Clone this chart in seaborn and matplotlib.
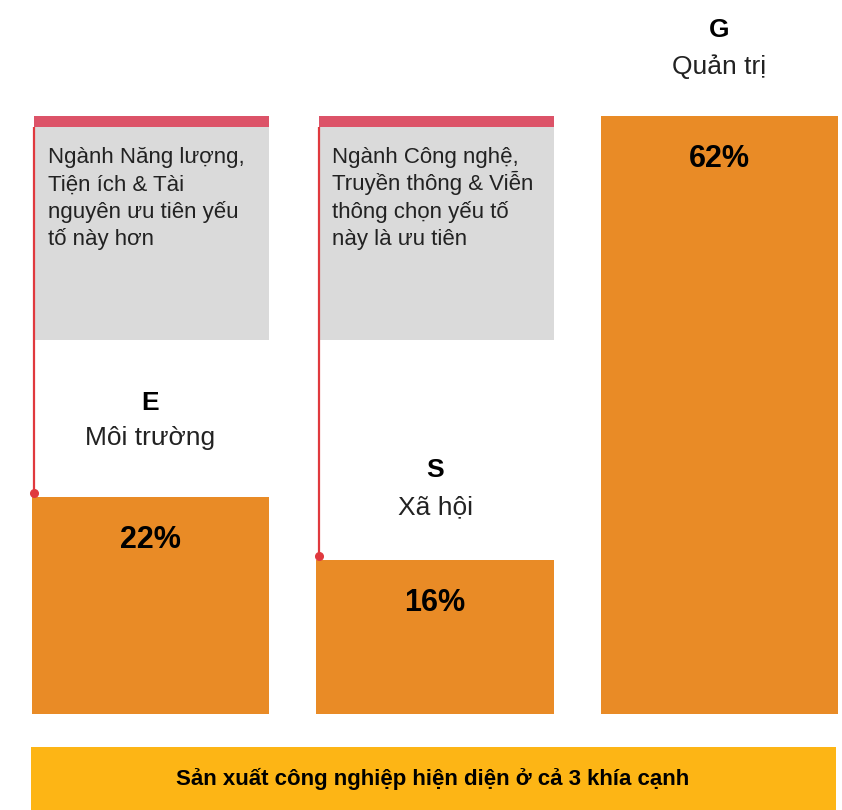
import matplotlib
matplotlib.use("Agg")
import matplotlib.pyplot as plt
import matplotlib.transforms as mtransforms
from matplotlib.patches import Rectangle
import seaborn as sns

# ---- data ----
categories = ["E", "S", "G"]
names = ["Môi trường", "Xã hội", "Quản trị"]
values = [22.5, 16, 62]
value_labels = ["22%", "16%", "62%"]
notes = {
    "E": ["Ngành Năng lượng,", "Tiện ích & Tài", "nguyên ưu tiên yếu", "tố này hơn"],
    "S": ["Ngành Công nghệ,", "Truyền thông & Viễn", "thông chọn yếu tố", "này là ưu tiên"],
}
footer = "Sản xuất công nghiệp hiện diện ở cả 3 khía cạnh"

ORANGE = "#E98B26"
GRAY = "#DADADA"
STRIP = "#DC5368"
RED = "#E0393E"
YELLOW = "#FDB515"

sns.set_theme(style="white")
plt.rcParams["font.family"] = ["Liberation Sans", "DejaVu Sans"]

W, H = 842, 810
fig = plt.figure(figsize=(W / 100, H / 100), dpi=100)
ax = fig.add_axes([0, 0, 1, 1])

sns.barplot(x=categories, y=values, color=ORANGE, saturation=1, width=0.835,
            linewidth=0, edgecolor="none", ax=ax)

# px-per-unit mapping: baseline at y=714 px, 62 at y=116 px
ppu = (714 - 116) / 62.0
ax.set_ylim(-(H - 714) / ppu, 62 + 116 / ppu)
spacing = 284.5
ax.set_xlim(-150.5 / spacing, (W - 150.5) / spacing)
ax.axis("off")

pix = mtransforms.Affine2D().scale(1 / W, -1 / H).translate(0, 1) + fig.transFigure

box_bottom = 62 - (340 - 116) / ppu
strip_h = 11 / ppu
dx = 2.5 / spacing

for i, (cat, patch) in enumerate(zip(categories, ax.patches)):
    x0 = patch.get_x()
    w = patch.get_width()
    v = values[i]
    cx = x0 + w / 2
    # value label
    ax.text(cx, v - 43 / ppu, value_labels[i], ha="center", va="center",
            fontsize=22, fontweight="bold", color="black")
    if cat in notes:
        ax.add_patch(Rectangle((x0 + dx, box_bottom), w - dx, 62 - box_bottom,
                               facecolor=GRAY, edgecolor="none", zorder=1))
        ax.add_patch(Rectangle((x0 + dx, 62 - strip_h), w - dx, strip_h,
                               facecolor=STRIP, edgecolor="none", zorder=2))
        ax.plot([x0 + dx, x0 + dx], [v + 4 / ppu, 62 - strip_h], color=RED,
                lw=1.6, zorder=3, solid_capstyle="butt")
        ax.plot([x0 + dx], [v + 4 / ppu], marker="o", ms=5.5, color=RED, zorder=4)
        for k, line in enumerate(notes[cat]):
            ax.text(x0 + 16 / spacing, 62 - (47 + 27.4 * k) / ppu, line,
                    ha="left", va="baseline", fontsize=16, color="#222222",
                    zorder=5)

# category headers (pixel positions)
header_pos = {"E": (150, 403, 438), "S": (435, 470, 507), "G": (719, 30, 67)}
for cat, nm in zip(categories, names):
    x, yl, yn = header_pos[cat]
    ax.text(x, yl, cat, transform=pix, ha="center", va="center",
            fontsize=19, fontweight="bold", color="black")
    ax.text(x, yn, nm, transform=pix, ha="center", va="center",
            fontsize=19, color="#222222")

# footer banner
fig.patches.append(Rectangle((31, 747), 836 - 31, H - 747, transform=pix,
                             facecolor=YELLOW, edgecolor="none", zorder=0))
fig.text(433 / W, 1 - 779 / H, footer, ha="center", va="center",
         fontsize=16, fontweight="bold", color="black")

fig.savefig("out.png", dpi=100, facecolor="white")
